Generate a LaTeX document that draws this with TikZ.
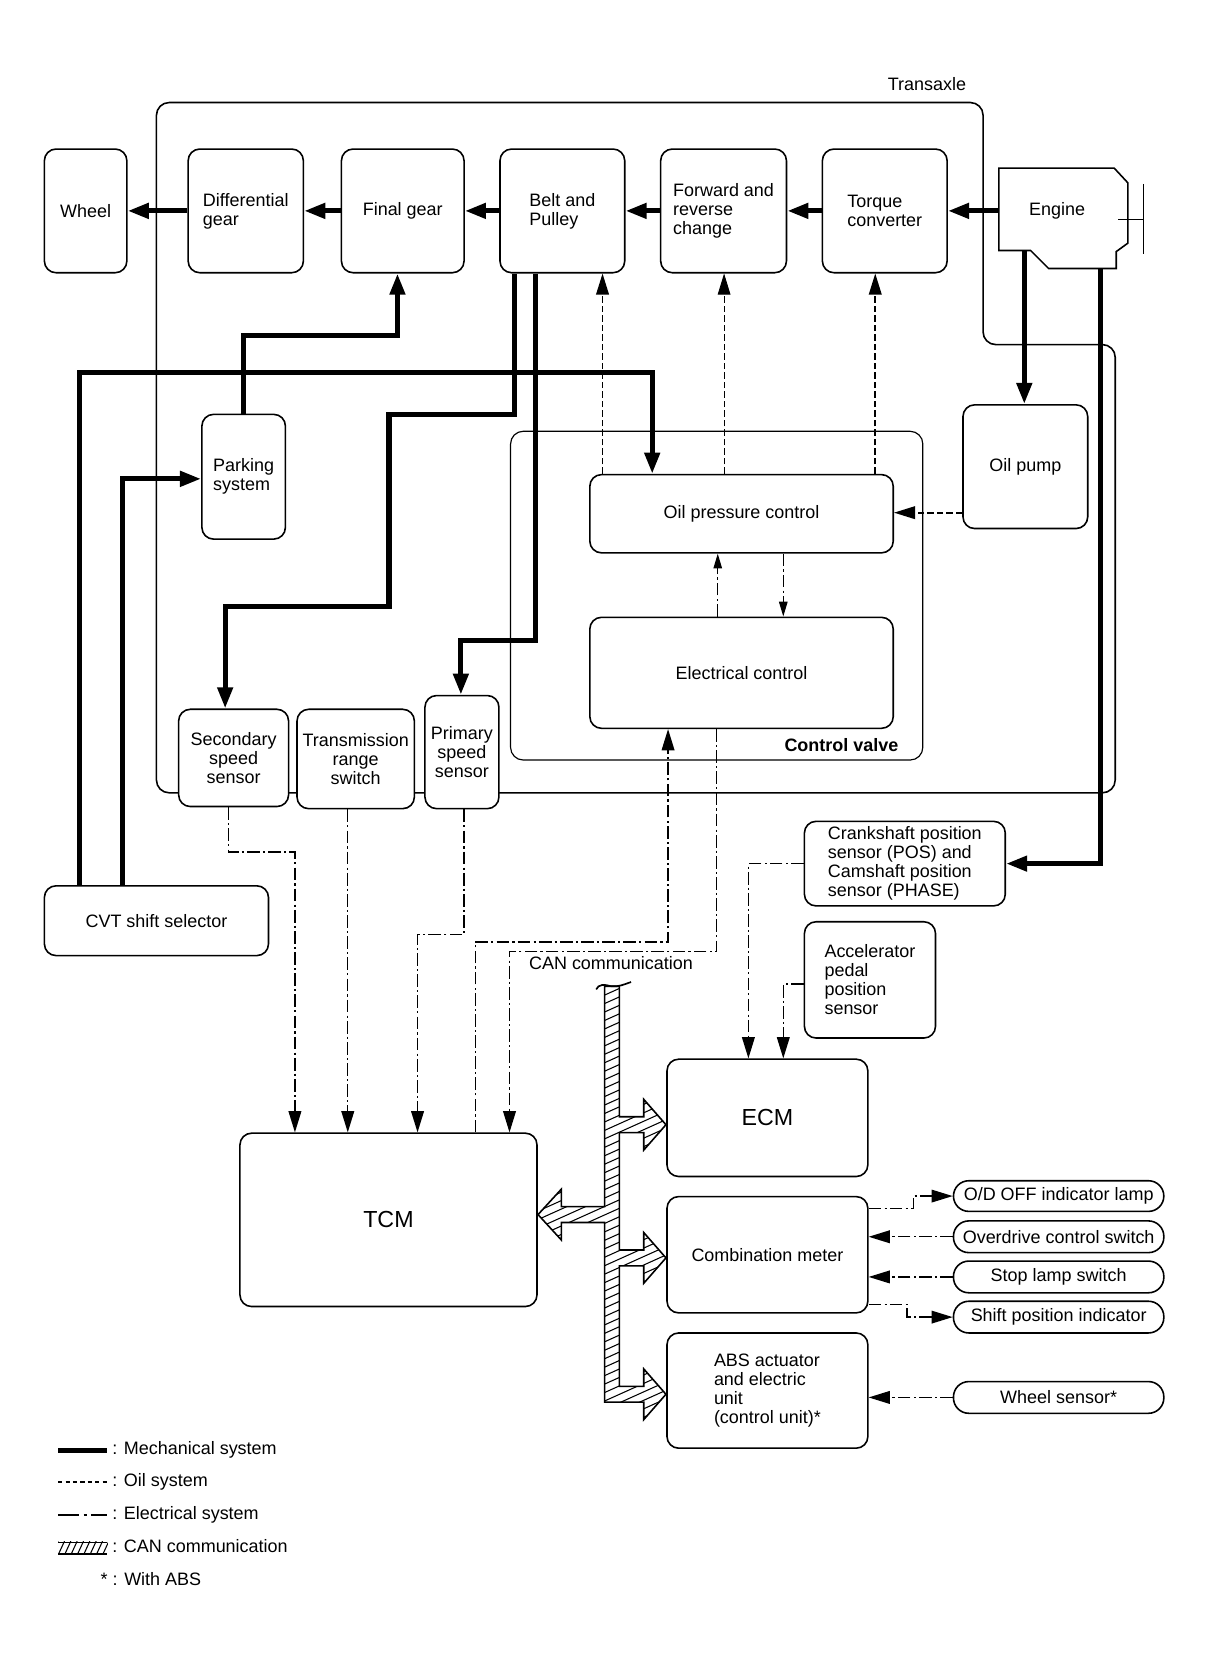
\documentclass[tikz,border=0pt]{standalone}
\usepackage{fontspec}
\setmainfont{Liberation Sans}
\usetikzlibrary{arrows.meta}
\tikzset{
  box/.style={draw, line width=1.5pt, rounded corners=11pt, fill=white, inner sep=0pt, align=center},
  pill/.style={box, rounded corners=14.5pt},
  mech/.style={line width=4.8pt, -{Triangle[length=20pt,width=14pt]}},
  mechline/.style={line width=4.8pt},
  oil/.style={line width=1.6pt, dash pattern=on 6pt off 3pt, -{Triangle[length=20pt,width=12pt]}},
  elec/.style={line width=1.3pt, dash pattern=on 12pt off 3pt on 2pt off 3pt, -{Triangle[length=20pt,width=12pt]}},
  elecsmall/.style={line width=1.3pt, dash pattern=on 12pt off 3pt on 2pt off 3pt, -{Triangle[length=14pt,width=8pt]}},
}
\newcommand\boxat[6][]{\node[box,#1,minimum width={#4pt-#2pt},minimum height={#5pt-#3pt}] (#6) at ({(#2+#4)/2},{(#3+#5)/2})}
\begin{document}
\begin{tikzpicture}[x=1pt,y=-1pt, every node/.style={font=\fontsize{17}{18}\selectfont}]
\useasboundingbox (0,0) rectangle (1150.4,1570.4);
% transaxle outline
\draw[line width=1.5pt, rounded corners=12pt] (500,750) -- (148,750) -- (148,97) -- (930,97) -- (930,326) -- (1055,326) -- (1055,750) -- cycle;
\node (transaxle) at (877,80) {Transaxle};
% control valve outline
\draw[line width=1.1pt, rounded corners=12pt] (483,408) rectangle (873,719);
\node[font={\fontsize{17}{18}\selectfont\bfseries}] (cvlabel) at (796,705) {Control valve};
% engine
\draw[line width=1.5pt, fill=white] (945,159) -- (1054,159) -- (1067,173) -- (1067,230) -- (1056,238) -- (1056,254) -- (992,254) -- (975,237) -- (945,237) -- cycle;
\node (engine) at (1000,199) {Engine};
\draw[line width=1pt] (1058,208) -- (1082,208) (1082,174) -- (1082,240);
\coordinate (engW) at (945,199.5);
\coordinate (engS1) at (969,237);
\coordinate (engS2) at (1041,254);
% top row
\boxat{42}{141}{120}{258}{wheel} {Wheel};
\boxat[align=left]{178}{141}{287}{258}{diff} {Differential\\gear};
\boxat{323}{141}{439}{258}{final} {Final gear};
\boxat[align=left]{473}{141}{591}{258}{belt} {Belt and\\Pulley};
\boxat[align=left]{625}{141}{744}{258}{fwd} {Forward and\\reverse\\change};
\boxat[align=left]{778}{141}{896}{258}{torque} {Torque\\converter};
% middle
\boxat[align=left]{191}{392}{270}{510}{park} {Parking\\system};
\boxat{558}{449}{845}{523}{opc} {Oil pressure control};
\boxat{558}{584}{845}{689}{ec} {Electrical control};
\boxat{911}{383}{1029}{500}{pump} {Oil pump};
\boxat{169}{671}{273}{763}{sec} {Secondary\\speed\\sensor};
\boxat{281}{671}{392}{765}{trs} {Transmission\\range\\switch};
\boxat{402}{658}{472}{765}{pri} {Primary\\speed\\sensor};
\boxat{42}{838}{254}{904}{cvt} {CVT shift selector};
\boxat[align=left]{761}{777}{951}{857}{crank} {Crankshaft position\\sensor (POS) and\\Camshaft position\\sensor (PHASE)};
\boxat[align=left]{761}{872}{885}{982}{accel} {Accelerator\\pedal\\position\\sensor};
% lower
\boxat[font=\fontsize{22}{24}\selectfont]{631}{1002}{821}{1113}{ecm} {ECM};
\boxat{631}{1132}{821}{1242}{comb} {Combination meter};
\boxat[align=left]{631}{1261}{821}{1370}{abs} {ABS actuator\\and electric\\unit\\(control unit)*};
\boxat[font=\fontsize{22}{24}\selectfont]{227}{1072}{508}{1236}{tcm} {TCM};
\boxat[pill]{902}{1117}{1101}{1146}{odoff} {O/D OFF indicator lamp};
\boxat[pill]{902}{1155}{1101}{1185}{odsw} {Overdrive control switch};
\boxat[pill]{902}{1193}{1101}{1223}{stop} {Stop lamp switch};
\boxat[pill]{902}{1231}{1101}{1261}{shiftind} {Shift position indicator};
\boxat[pill]{902}{1307}{1101}{1337}{wsens} {Wheel sensor*};
% mechanical connectors
\draw[mech] (engW) -- (torque.east);
\draw[mech] (torque.west) -- (fwd.east);
\draw[mech] (fwd.west) -- (belt.east);
\draw[mech] (belt.west) -- (final.east);
\draw[mech] (final.west) -- (diff.east);
\draw[mech] (diff.west) -- (wheel.east);
\draw[mech] (park.north) -- (230.5,317) -- (376,317) -- (final.south -| 376,0);
\draw[mech] (cvt.north -| 75,0) -- (75,352) -- (617,352) -- (opc.north -| 617,0);
\draw[mech] (cvt.north -| 116,0) -- (116,453) -- (park.west |- 0,453);
\draw[mech] (belt.south -| 487,0) -- (487,392) -- (368,392) -- (368,574) -- (213,574) -- (sec.north -| 213,0);
\draw[mech] (belt.south -| 507,0) -- (507,606) -- (436,606) -- (pri.north -| 436,0);
\draw[mech] (engS1) -- (pump.north -| engS1);
\draw[mech] (engS2) -- (1041,817) -- (crank.east |- 0,817);
% oil connectors
\draw[oil] (opc.north -| 570,0) -- (belt.south -| 570,0);
\draw[oil, line width=0.8pt] (opc.north -| 685,0) -- (fwd.south -| 685,0);
\draw[oil] (opc.north -| 828,0) -- (torque.south -| 828,0);
\draw[oil] (pump.west |- 0,485) -- (opc.east |- 0,485);
% electrical connectors
\draw[elecsmall] (ec.north -| 679,0) -- (opc.south -| 679,0);
\draw[elecsmall] (opc.south -| 741,0) -- (ec.north -| 741,0);
\draw[elec] (sec.south -| 216,0) -- (216,806) -- (279,806) -- (tcm.north -| 279,0);
\draw[elec] (trs.south -| 329,0) -- (tcm.north -| 329,0);
\draw[elec] (pri.south -| 439,0) -- (439,884) -- (395,884) -- (tcm.north -| 395,0);
\draw[elec] (tcm.north -| 450,0) -- (450,891) -- (632,891) -- (ec.south -| 632,0);
\draw[elec] (ec.south -| 678,0) -- (678,900) -- (482,900) -- (tcm.north -| 482,0);
\draw[elec] (crank.west |- 0,817) -- (708,817) -- (ecm.north -| 708,0);
\draw[elec] (accel.west |- 0,931) -- (741,931) -- (ecm.north -| 741,0);
\draw[elec] (comb.east |- 0,1143) -- (864,1143) -- (864,1131.5) -- (odoff.west);
\draw[elec] (odsw.west) -- (comb.east |- odsw.west);
\draw[elec] (stop.west) -- (comb.east |- stop.west);
\draw[elec] (comb.east |- 0,1234) -- (858,1234) -- (858,1246) -- (shiftind.west);
\draw[elec] (wsens.west) -- (abs.east |- wsens.west);
% CAN bus
\node (canlabel) at (578,911) {CAN communication};
\def\canpath{(572,933) -- (586,933) -- (586,1056.5) -- (609,1056.5) -- (609,1040) -- (630,1064) -- (609,1088) -- (609,1071.5) -- (586,1071.5) -- (586,1182.5) -- (609,1182.5) -- (609,1166) -- (630,1190) -- (609,1214) -- (609,1197.5) -- (586,1197.5) -- (586,1311.5) -- (609,1311.5) -- (609,1295) -- (630,1319) -- (609,1343) -- (609,1326.5) -- (572,1326.5) -- (572,1156.5) -- (531,1156.5) -- (531,1173) -- (509,1149) -- (531,1125) -- (531,1141.5) -- (572,1141.5) -- cycle}
\begin{scope}
\clip \canpath;
\foreach \k in {0,...,62} \draw[line width=1pt] (495,{920+8*\k}) -- (645,{920+8*\k-67.5});
\end{scope}
\draw[line width=1.5pt] \canpath;
\draw[line width=1.6pt] (564,936) .. controls (566,931) and (572,931) .. (578,933) .. controls (585,934) and (591,931) .. (597,929);
% legend
\draw[line width=4.8pt] (55,1372) -- (101,1372);
\draw[line width=2pt, dash pattern=on 4pt off 3pt] (55,1402) -- (101,1402);
\draw[line width=1.5pt, dash pattern=on 20pt off 4pt on 3pt off 4pt] (55,1433) -- (101,1433);
\begin{scope}
\clip (55,1458) rectangle (102,1471);
\foreach \k in {0,...,9} \draw[line width=1pt] ({49+6*\k},1471) -- ({55+6*\k},1458);
\end{scope}
\draw[line width=0.8pt] (55,1459) -- (101,1459);
\draw[line width=2pt] (55,1470) -- (101,1470);
\node[anchor=west, inner sep=0pt] (lg1) at (106,1372) {: Mechanical system};
\node[anchor=west, inner sep=0pt] (lg2) at (106,1402) {: Oil system};
\node[anchor=west, inner sep=0pt] (lg3) at (106,1433) {: Electrical system};
\node[anchor=west, inner sep=0pt] (lg4) at (106,1463) {: CAN communication};
\node[anchor=west, inner sep=0pt] (lg5) at (95,1494) {* : With ABS};
\end{tikzpicture}
\end{document}
